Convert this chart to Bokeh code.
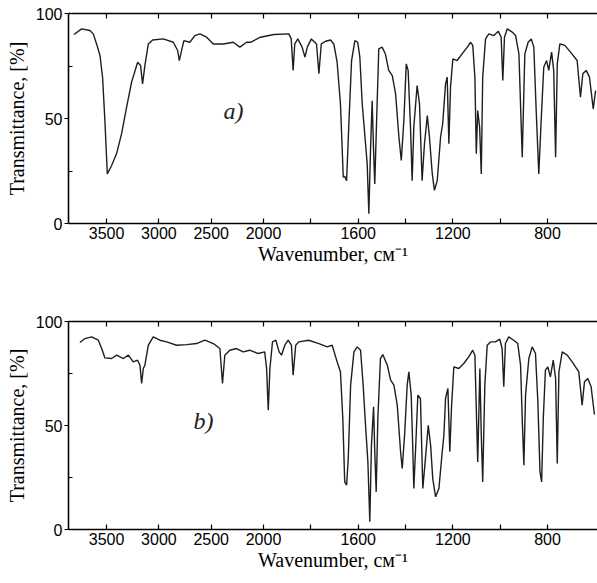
from bokeh.plotting import figure
from bokeh.models import Range1d, FixedTicker, LinearAxis, Label
from bokeh.layouts import column
from bokeh.embed import file_html
from bokeh.resources import INLINE

# ---------------- data ----------------
wn_a = [3812, 3738, 3659, 3627, 3595, 3563, 3538, 3516, 3493, 3452, 3404, 3356, 3309, 3261,
        3203, 3175, 3156, 3134, 3101, 3060, 2958, 2862, 2821, 2805, 2783, 2761, 2704, 2656,
        2608, 2544, 2480, 2385, 2289, 2226, 2162, 2124, 2029, 1956, 1893, 1883, 1875, 1868,
        1855, 1837, 1825, 1815, 1798, 1776, 1766, 1756, 1738, 1717, 1703, 1689, 1675, 1663,
        1657, 1649, 1640, 1628, 1614, 1602, 1593, 1583, 1569, 1562, 1555, 1548, 1541, 1535,
        1530, 1523, 1513, 1499, 1485, 1471, 1456, 1442, 1428, 1418, 1407, 1397, 1389, 1379,
        1372, 1365, 1351, 1341, 1330, 1320, 1308, 1299, 1287, 1278, 1266, 1252, 1243, 1231,
        1224, 1217, 1210, 1200, 1182, 1161, 1139, 1125, 1116, 1107, 1101, 1095, 1087, 1080,
        1074, 1062, 1048, 1027, 1008, 996, 989, 982, 970, 949, 935, 921, 907, 896, 882, 869,
        858, 848, 837, 827, 816, 804, 795, 783, 774, 766, 759, 748, 727, 703, 675, 661, 651,
        637, 623, 607, 597]
t_a = [90.0, 92.7, 91.9, 90.3, 85.4, 80.0, 69.4, 48.8, 23.6, 27.6, 33.3, 42.9, 55.3, 67.3,
       76.8, 75.2, 66.5, 75.2, 85.5, 87.4, 87.9, 86.3, 82.4, 77.6, 82.4, 87.1, 86.3, 89.5,
       90.3, 88.7, 85.5, 85.5, 86.3, 84.0, 86.3, 86.3, 88.7, 90.0, 90.3, 87.9, 72.9, 85.5,
       87.9, 84.0, 79.2, 84.0, 87.9, 85.5, 71.3, 85.5, 86.8, 87.4, 85.5, 76.8, 57.0, 22.0,
       22.5, 20.4, 45.9, 77.6, 87.1, 86.3, 79.2, 57.0, 38.0, 28.4, 4.6, 34.7, 58.5, 34.7,
       18.8, 46.0, 83.2, 84.0, 80.7, 72.9, 70.4, 61.7, 41.2, 30.0, 49.1, 76.0, 72.9, 46.0,
       20.4, 46.0, 65.7, 57.0, 20.4, 38.0, 51.4, 41.1, 23.6, 15.8, 20.4, 41.1, 47.5, 66.5,
       69.7, 38.0, 64.9, 78.4, 77.6, 80.8, 84.0, 86.3, 84.8, 69.7, 33.2, 53.8, 45.9, 23.6,
       69.7, 87.9, 90.3, 89.5, 91.5, 88.7, 68.1, 88.7, 92.7, 91.1, 89.5, 80.8, 31.6, 80.8,
       86.3, 87.9, 84.0, 53.8, 23.6, 49.1, 74.4, 77.6, 72.9, 81.6, 72.9, 31.6, 76.0, 85.5,
       84.8, 81.6, 77.6, 60.1, 71.3, 72.9, 69.7, 54.6, 63.3]

wn_b = [3755, 3707, 3643, 3579, 3547, 3516, 3452, 3404, 3340, 3292, 3245, 3203, 3181, 3165,
        3149, 3134, 3101, 3054, 2990, 2926, 2831, 2735, 2640, 2561, 2480, 2417, 2392, 2370,
        2322, 2258, 2194, 2131, 2051, 1995, 1987, 1980, 1973, 1962, 1948, 1934, 1924, 1910,
        1896, 1882, 1875, 1864, 1851, 1809, 1766, 1731, 1710, 1689, 1675, 1665, 1657, 1649,
        1642, 1632, 1618, 1604, 1590, 1579, 1569, 1559, 1551, 1544, 1535, 1530, 1524, 1517,
        1506, 1496, 1477, 1463, 1449, 1435, 1421, 1414, 1404, 1393, 1386, 1376, 1369, 1365,
        1358, 1348, 1337, 1327, 1316, 1304, 1294, 1285, 1273, 1259, 1245, 1238, 1231, 1221,
        1213, 1206, 1196, 1175, 1154, 1133, 1116, 1107, 1100, 1095, 1086, 1080, 1074, 1065,
        1055, 1041, 1020, 1002, 992, 985, 978, 964, 943, 926, 914, 907, 900, 893, 879, 865,
        851, 841, 832, 825, 818, 809, 799, 788, 776, 766, 759, 752, 738, 717, 696, 668, 654,
        644, 630, 616, 602]
t_b = [89.9, 91.8, 92.6, 91.0, 87.0, 82.5, 82.2, 83.8, 82.2, 83.8, 80.6, 81.4, 79.0, 70.2,
       77.4, 79.0, 88.6, 92.6, 91.0, 90.2, 88.6, 88.9, 89.4, 91.0, 89.4, 87.0, 70.2, 83.8,
       86.2, 87.0, 85.4, 86.2, 84.6, 85.4, 77.4, 57.4, 77.4, 90.2, 91.0, 85.4, 83.8, 88.6,
       91.0, 88.6, 74.2, 88.6, 90.2, 91.0, 89.4, 87.8, 88.6, 80.6, 75.8, 53.4, 22.9, 21.3,
       34.1, 69.4, 85.4, 87.8, 86.2, 69.4, 50.1, 32.5, 3.7, 40.5, 59.0, 37.4, 18.1, 53.4,
       82.2, 84.1, 79.0, 71.8, 69.4, 59.8, 37.4, 29.3, 45.3, 69.4, 75.8, 64.6, 37.4, 19.7,
       37.4, 64.6, 63.0, 19.7, 34.1, 50.1, 40.5, 24.5, 15.7, 19.7, 37.4, 45.3, 63.0, 67.8,
       37.4, 58.2, 78.2, 77.4, 79.8, 83.0, 86.2, 83.8, 53.4, 32.5, 77.4, 45.3, 22.9, 69.4,
       88.6, 90.2, 90.2, 91.5, 87.0, 68.6, 89.4, 92.6, 91.0, 89.4, 79.0, 53.4, 30.9, 64.6,
       82.2, 87.8, 84.6, 61.4, 27.7, 22.9, 53.4, 76.6, 78.2, 73.4, 81.4, 72.6, 31.7, 75.8,
       85.4, 83.8, 80.6, 75.8, 59.8, 71.0, 72.6, 68.6, 55.3]

x_labeled_ticks = [3500, 3000, 2500, 2000, 1600, 1200, 800]
x_unlabeled_ticks = [1800, 1400, 1000]
y_ticks = [0, 50, 100]
y_minor_ticks = [25, 75]
WN_LEFT, WN_RIGHT = 3864, 589

# Spectrometer scale: the range above 2000 cm^-1 is compressed
BREAK = 2000.0
K = 0.442


def xpos(w):
    u = (BREAK - w) if w <= BREAK else -(w - BREAK) * K
    return round(u, 4)


SERIF = "Liberation Serif"
SANS = "Liberation Sans"


def make_panel(wn, t, tag, tag_wn, tag_t, height, top, bottom):
    p = figure(width=597, height=height, output_backend="svg", toolbar_location=None,
               x_range=Range1d(xpos(WN_LEFT), xpos(WN_RIGHT)), y_range=Range1d(0, 100),
               min_border_left=68, min_border_right=0, min_border_top=top,
               min_border_bottom=bottom, outline_line_color=None,
               x_axis_location=None, y_axis_location=None)
    p.xgrid.visible = False
    p.ygrid.visible = False

    lab_u = [xpos(w) for w in x_labeled_ticks]
    unl_u = [xpos(w) for w in x_unlabeled_ticks]
    overrides = {u: str(w) for u, w in zip(lab_u, x_labeled_ticks)}

    xb = LinearAxis(ticker=FixedTicker(ticks=lab_u, minor_ticks=unl_u),
                    major_label_overrides=overrides,
                    axis_label="Wavenumber, см⁻¹")
    xb.axis_line_width = 1.6
    xb.major_tick_in = 5
    xb.major_tick_out = 0
    xb.major_tick_line_width = 1.2
    xb.minor_tick_in = 5
    xb.minor_tick_out = 0
    xb.minor_tick_line_width = 1.2
    xb.major_label_standoff = 3
    xb.major_label_text_font = SANS
    xb.major_label_text_font_size = "16px"
    xb.major_label_text_color = "black"
    xb.axis_label_standoff = 1
    xb.axis_label_text_font = SERIF
    xb.axis_label_text_font_style = "normal"
    xb.axis_label_text_font_size = "20px"
    xb.axis_label_text_color = "black"
    p.add_layout(xb, "below")

    # top frame line with inward ticks, no labels
    xt = LinearAxis(ticker=FixedTicker(ticks=[], minor_ticks=lab_u + unl_u))
    xt.axis_line_width = 1.6
    xt.minor_tick_in = 5
    xt.minor_tick_out = 0
    xt.minor_tick_line_width = 1.2
    p.add_layout(xt, "above")

    yl = LinearAxis(ticker=FixedTicker(ticks=y_ticks, minor_ticks=y_minor_ticks),
                    axis_label="Transmittance, [%]")
    yl.axis_line_width = 1.6
    yl.major_tick_in = 0
    yl.major_tick_out = 4
    yl.major_tick_line_width = 1.2
    yl.minor_tick_in = 4
    yl.minor_tick_out = 0
    yl.minor_tick_line_width = 1.2
    yl.major_label_standoff = 2
    yl.major_label_text_font = SANS
    yl.major_label_text_font_size = "16px"
    yl.major_label_text_color = "black"
    yl.axis_label_standoff = 5
    yl.axis_label_text_font = SERIF
    yl.axis_label_text_font_style = "normal"
    yl.axis_label_text_font_size = "20px"
    yl.axis_label_text_color = "black"
    p.add_layout(yl, "left")

    p.line([xpos(w) for w in wn], t, line_color="#1e1e1e", line_width=1.4)

    p.add_layout(Label(x=xpos(tag_wn), y=tag_t, text=tag, text_font=SERIF,
                       text_font_style="italic", text_font_size="24px",
                       text_align="center", text_baseline="middle", text_color="#222222"))
    return p


pa = make_panel(wn_a, t_a, "a)", 2287, 53.8, 298, 13, 75)
pb = make_panel(wn_b, t_b, "b)", 2573, 52.4, 278, 23, 47)

layout = column(pa, pb)
open("out.html", "w").write(file_html(layout, INLINE))
